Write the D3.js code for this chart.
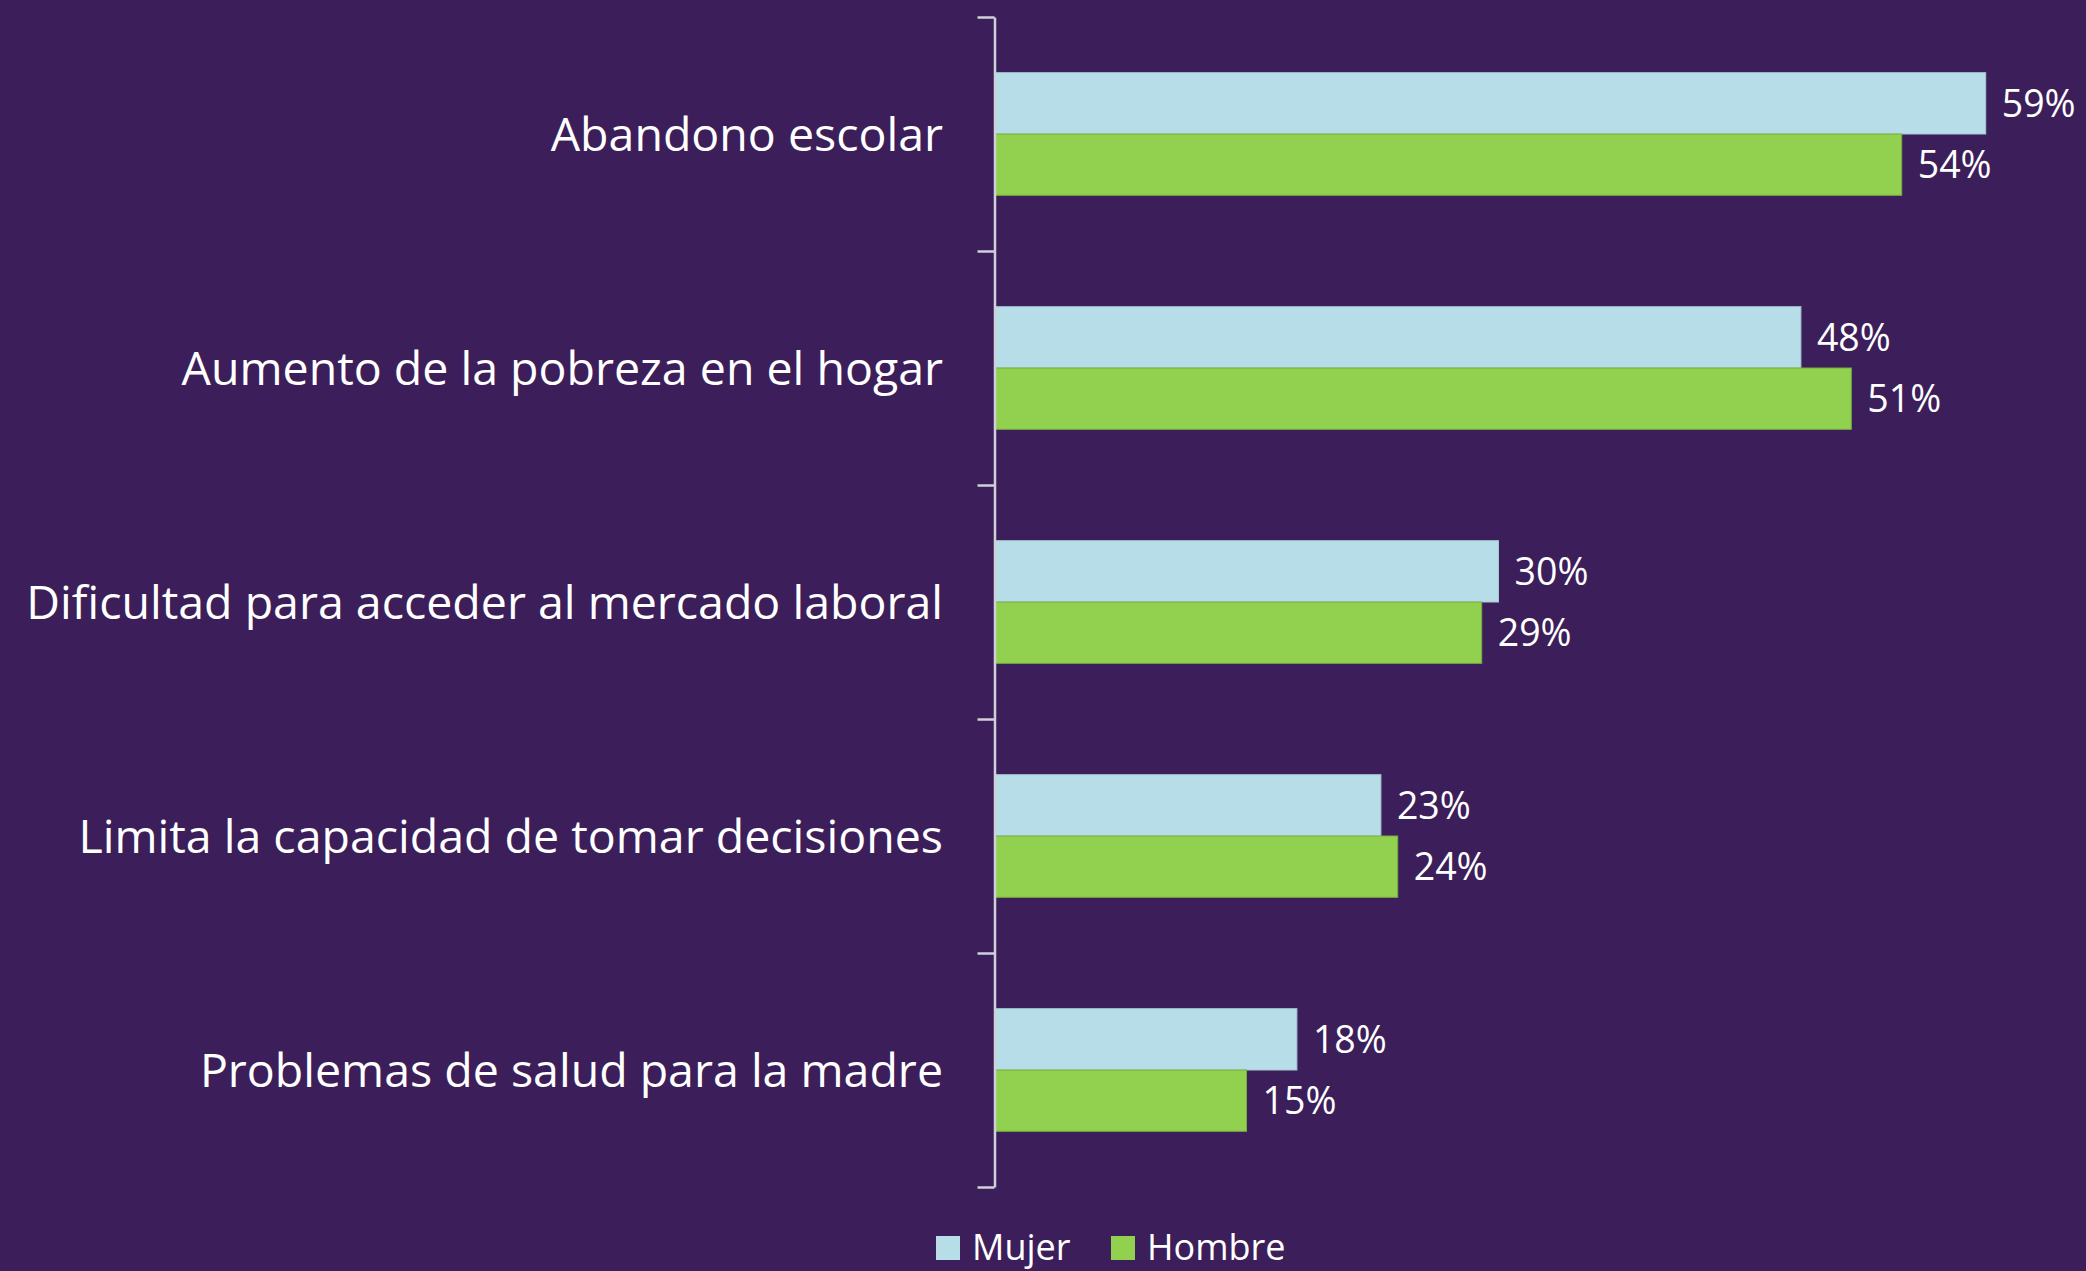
<!DOCTYPE html>
<html>
<head>
<meta charset="utf-8">
<script src="https://cdn.jsdelivr.net/npm/d3@7"></script>
<style>
  html, body { margin: 0; padding: 0; background: #3c1f5a; }
  svg { display: block; }
  text { font-family: "Open Sans", Lato, sans-serif; fill: #ffffff; }
</style>
</head>
<body>
<svg id="chart" width="2086" height="1271"></svg>
<script>
const categories = [
  "Abandono escolar",
  "Aumento de la pobreza en el hogar",
  "Dificultad para acceder al mercado laboral",
  "Limita la capacidad de tomar decisiones",
  "Problemas de salud para la madre"
];
const seriesNames = ["Mujer", "Hombre"];
const mujerValues = [59, 48, 30, 23, 18];
const hombreValues = [54, 51, 29, 24, 15];
const seriesColors = ["#b7dee8", "#92d050"];
const seriesStrokes = ["#a6c9d4", "#78ad3e"];

const W = 2086, H = 1271;
const svg = d3.select("#chart");
svg.append("rect").attr("width", W).attr("height", H).attr("fill", "#3c1f5a");

const axisX = 994.5;
const x = d3.scaleLinear().domain([0, 60]).range([axisX, 2002.5]);
const y = d3.scaleBand().domain(categories).range([17, 1187])
  .paddingInner(0.476).paddingOuter(0.238);
const ySub = d3.scaleBand().domain(seriesNames).range([0, y.bandwidth()]);

const data = categories.map((c, i) => ({
  cat: c,
  vals: [
    { s: "Mujer", v: mujerValues[i], k: 0 },
    { s: "Hombre", v: hombreValues[i], k: 1 }
  ]
}));

// bars
const groups = svg.append("g").selectAll("g").data(data).join("g")
  .attr("transform", d => `translate(0,${y(d.cat)})`);

groups.selectAll("rect").data(d => d.vals).join("rect")
  .attr("x", x(0) + 1)
  .attr("y", d => ySub(d.s))
  .attr("width", d => x(d.v) - x(0) - 1)
  .attr("height", ySub.bandwidth())
  .attr("fill", d => seriesColors[d.k])
  .attr("stroke", d => seriesStrokes[d.k])
  .attr("stroke-width", 1);

// value labels
groups.selectAll("text").data(d => d.vals).join("text")
  .attr("x", d => x(d.v) + 16)
  .attr("y", d => ySub(d.s) + ySub.bandwidth() / 2)
  .attr("dy", "0.36em")
  .attr("font-size", 37.5)
  .text(d => d.v + "%");

// axis with ticks at band edges
const yEdge = d3.scaleLinear().domain([0, categories.length]).range(y.range());
const axis = svg.append("g")
  .attr("transform", `translate(${axisX},0)`)
  .call(d3.axisLeft(yEdge).tickValues(d3.range(categories.length + 1))
    .tickSize(17).tickSizeOuter(0).tickFormat(""));
axis.selectAll("path, line").attr("stroke", "#d0d0d8").attr("stroke-width", 2.5);

// category labels
svg.append("g").selectAll("text").data(categories).join("text")
  .attr("x", 943)
  .attr("y", d => y(d) + y.bandwidth() / 2)
  .attr("dy", "0.36em")
  .attr("text-anchor", "end")
  .attr("font-size", 46.5)
  .text(d => d);

// legend
const legendX = [936, 1111];
const legend = svg.append("g").selectAll("g").data(seriesNames).join("g")
  .attr("transform", (d, i) => `translate(${legendX[i]},1236)`);
legend.append("rect").attr("width", 24).attr("height", 24)
  .attr("fill", (d, i) => seriesColors[i]);
legend.append("text").attr("x", 36).attr("y", 24)
  .attr("font-size", 36).text(d => d);
</script>
</body>
</html>
